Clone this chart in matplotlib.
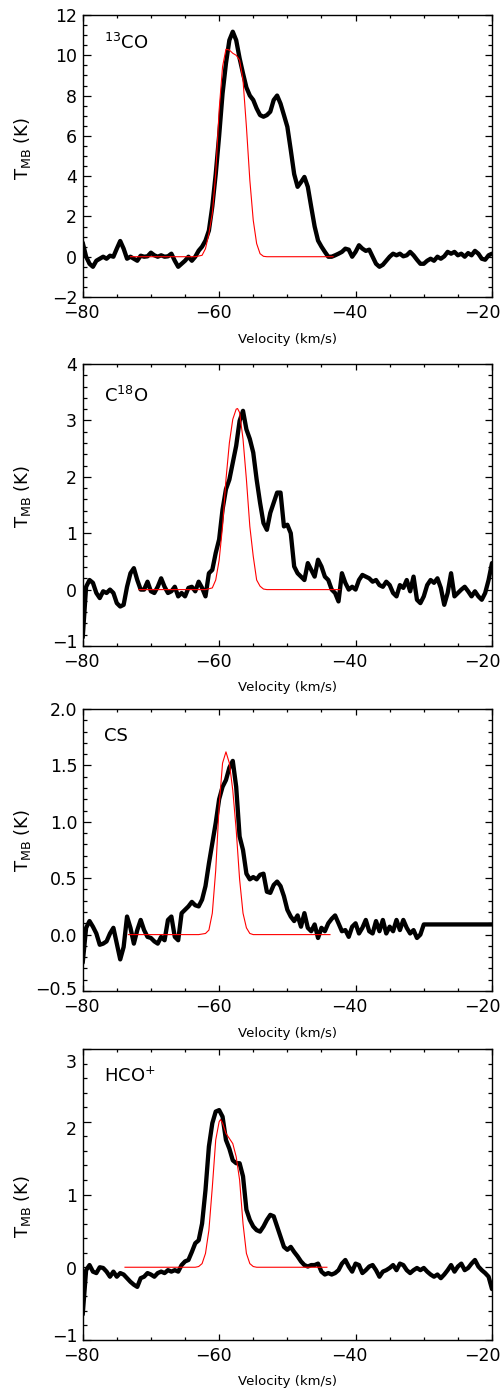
import numpy as np
import matplotlib
matplotlib.use("Agg")
import matplotlib.pyplot as plt
from matplotlib.ticker import MultipleLocator, FixedLocator
from matplotlib.transforms import ScaledTranslation

plt.rcParams['font.family'] = ['DejaVu Sans']
plt.rcParams['mathtext.default'] = 'regular'

# Channel velocities (km/s), 0.5 km/s spacing
velocity = np.linspace(-80, -20, 121)

# 13CO brightness temperature (K)
t_13co = [
    0.7, 0.0, -0.35, -0.5, -0.2, -0.1, 0.0, -0.1, 0.05, 0.0,
    0.4, 0.78, 0.4, -0.1, 0.0, -0.1, -0.2, 0.05, 0.0, 0.02,
    0.2, 0.07, 0.0, 0.07, 0.0, 0.02, 0.15, -0.2, -0.5, -0.35,
    -0.2, 0.0, -0.2, 0.0, 0.3, 0.5, 0.8, 1.3, 2.5, 4.1,
    6.0, 8.1, 9.6, 10.75, 11.17, 10.75, 9.85, 9.1, 8.4, 8.0,
    7.78, 7.36, 7.03, 6.95, 7.03, 7.2, 7.78, 8.0, 7.6, 7.03,
    6.45, 5.3, 4.1, 3.47, 3.7, 3.96, 3.47, 2.47, 1.5, 0.8,
    0.5, 0.24, 0.0, 0.0, 0.07, 0.15, 0.24, 0.4, 0.35, 0.0,
    0.24, 0.57, 0.4, 0.29, 0.35, 0.0, -0.35, -0.5, -0.4, -0.2,
    0.0, 0.15, 0.07, 0.15, 0.02, 0.07, 0.24, 0.07, -0.15, -0.35,
    -0.35, -0.2, -0.1, -0.2, 0.0, -0.1, 0.02, 0.24, 0.15, 0.24,
    0.07, 0.15, 0.0, 0.18, 0.07, 0.29, 0.15, -0.1, -0.15, 0.07,
    0.15,
]

# C18O brightness temperature (K)
t_c18o = [
    -0.85, 0.05, 0.17, 0.12, -0.06, -0.15, -0.03, -0.06, 0.0, -0.06,
    -0.24, -0.3, -0.27, 0.05, 0.29, 0.38, 0.17, 0.0, 0.0, 0.14,
    -0.03, -0.06, 0.05, 0.2, 0.05, -0.06, -0.03, 0.05, -0.12, -0.06,
    -0.12, 0.03, 0.05, -0.03, 0.14, 0.03, -0.12, 0.29, 0.35, 0.65,
    0.89, 1.42, 1.78, 1.95, 2.25, 2.55, 2.99, 3.17, 2.84, 2.67,
    2.43, 1.95, 1.54, 1.18, 1.06, 1.36, 1.54, 1.72, 1.72, 1.12,
    1.15, 1.0, 0.41, 0.29, 0.23, 0.17, 0.47, 0.35, 0.23, 0.53,
    0.41, 0.23, 0.17, 0.0, -0.06, -0.21, 0.29, 0.12, 0.0, 0.05,
    0.0, 0.17, 0.26, 0.23, 0.2, 0.14, 0.17, 0.08, 0.05, 0.14,
    0.08, -0.06, -0.12, 0.08, 0.03, 0.17, -0.03, 0.23, -0.18, -0.24,
    -0.12, 0.08, 0.17, 0.12, 0.2, 0.03, -0.27, -0.06, 0.29, -0.12,
    -0.06, 0.0, 0.05, -0.03, -0.12, -0.03, -0.12, -0.18, -0.06, 0.17,
    0.47,
]

# CS brightness temperature (K)
t_cs = [
    -0.25, 0.06, 0.12, 0.07, 0.01, -0.09, -0.08, -0.06, 0.01, 0.06,
    -0.08, -0.22, -0.11, 0.16, 0.06, -0.08, 0.04, 0.13, 0.04, -0.02,
    -0.03, -0.06, -0.08, -0.02, -0.05, 0.13, 0.16, -0.02, -0.05, 0.19,
    0.22, 0.25, 0.29, 0.26, 0.25, 0.31, 0.43, 0.63, 0.81, 0.99,
    1.2, 1.31, 1.37, 1.48, 1.54, 1.31, 0.87, 0.75, 0.54, 0.49,
    0.51, 0.49, 0.53, 0.54, 0.38, 0.37, 0.44, 0.47, 0.43, 0.34,
    0.22, 0.16, 0.12, 0.17, 0.07, 0.19, 0.06, 0.03, 0.09, -0.03,
    0.06, 0.03, 0.1, 0.14, 0.17, 0.1, 0.03, 0.04, -0.02, 0.07,
    0.1, 0.01, 0.06, 0.13, 0.03, 0.01, 0.12, 0.03, 0.13, 0.01,
    0.07, 0.03, 0.13, 0.04, 0.13, 0.06, 0.01, 0.04, -0.03, 0.0,
    0.09, 0.09, 0.09, 0.09, 0.09, 0.09, 0.09, 0.09, 0.09, 0.09,
    0.09, 0.09, 0.09, 0.09, 0.09, 0.09, 0.09, 0.09, 0.09, 0.09,
    0.09,
]

# HCO+ brightness temperature (K)
t_hcop = [
    -0.65, -0.04, 0.03, -0.06, -0.08, 0.0, -0.01, -0.06, -0.13, -0.06,
    -0.13, -0.08, -0.1, -0.15, -0.2, -0.24, -0.27, -0.15, -0.13, -0.08,
    -0.1, -0.13, -0.08, -0.06, -0.08, -0.04, -0.06, -0.04, -0.06, 0.03,
    0.08, 0.1, 0.21, 0.33, 0.37, 0.6, 1.06, 1.66, 1.98, 2.14,
    2.16, 2.07, 1.75, 1.63, 1.47, 1.43, 1.43, 1.25, 0.79, 0.65,
    0.56, 0.51, 0.49, 0.56, 0.65, 0.72, 0.7, 0.56, 0.42, 0.28,
    0.24, 0.28, 0.21, 0.15, 0.08, 0.03, 0.01, 0.03, 0.03, 0.05,
    -0.06, -0.1, -0.08, -0.1, -0.08, -0.04, 0.05, 0.1, 0.01, -0.06,
    0.05, 0.03, -0.08, -0.04, 0.01, 0.03, -0.04, -0.13, -0.06, -0.04,
    -0.01, 0.03, -0.04, 0.05, 0.03, -0.04, -0.08, -0.04, -0.01, -0.04,
    -0.01, -0.06, -0.1, -0.13, -0.1, -0.15, -0.1, -0.04, 0.03, -0.06,
    0.01, 0.05, -0.04, -0.01, 0.05, 0.1, 0.01, -0.04, -0.08, -0.13,
    -0.3,
]

# Fitted line profiles (red)
fit_v_13co = [-73.0, -63.5, -62.5, -62.0, -61.5, -61.0, -60.5, -60.0, -59.5, -59.0,
              -58.5, -58.0, -57.5, -57.0, -56.5, -56.0, -55.5, -55.0, -54.5, -54.0,
              -53.5, -53.0, -43.3]
fit_t_13co = [0.0, 0.0, 0.07, 0.4, 1.15, 2.14, 4.13, 7.28, 9.43, 10.3,
              10.26, 10.1, 10.0, 9.76, 8.77, 6.45, 3.8, 1.81, 0.65, 0.15,
              0.02, 0.0, 0.0]

fit_v_c18o = [-71.8, -62.0, -61.0, -60.5, -60.0, -59.5, -59.0, -58.5, -58.0, -57.5,
              -57.3, -57.0, -56.5, -56.0, -55.5, -55.0, -54.5, -54.0, -53.5, -53.0,
              -42.3]
fit_t_c18o = [0.0, 0.0, 0.03, 0.17, 0.52, 1.12, 1.95, 2.6, 3.02, 3.2,
              3.21, 3.14, 2.67, 1.95, 1.12, 0.59, 0.17, 0.06, 0.01, 0.0,
              0.0]

fit_v_cs = [-73.3, -63.0, -62.0, -61.5, -61.0, -60.5, -60.0, -59.5, -59.0, -58.5,
            -58.0, -57.5, -57.0, -56.5, -56.0, -55.5, -55.0, -43.75]
fit_t_cs = [0.0, 0.0, 0.01, 0.04, 0.19, 0.57, 1.14, 1.52, 1.62, 1.52,
            1.28, 0.93, 0.49, 0.19, 0.06, 0.01, 0.0, 0.0]

fit_v_hcop = [-73.8, -63.5, -63.0, -62.5, -62.0, -61.5, -61.0, -60.5, -60.0, -59.8,
              -59.5, -59.0, -58.5, -58.0, -57.5, -57.0, -56.5, -56.0, -55.5, -55.0,
              -54.5, -44.2]
fit_t_hcop = [0.0, 0.0, 0.01, 0.05, 0.19, 0.51, 1.1, 1.75, 2.0, 2.03,
              1.98, 1.84, 1.77, 1.7, 1.52, 1.2, 0.6, 0.19, 0.05, 0.01,
              0.0, 0.0]

species = [r'$^{13}$CO', r'C$^{18}$O', 'CS', r'HCO$^{+}$']
spectra = [t_13co, t_c18o, t_cs, t_hcop]
fits = [(fit_v_13co, fit_t_13co), (fit_v_c18o, fit_t_c18o),
        (fit_v_cs, fit_t_cs), (fit_v_hcop, fit_t_hcop)]
ylims = [(-2, 12), (-1, 4), (-0.5, 2.0), (-1, 3)]
yticks = [[-2, 0, 2, 4, 6, 8, 10, 12],
          [-1, 0, 1, 2, 3, 4],
          [-0.5, 0.0, 0.5, 1.0, 1.5, 2.0],
          [-1, 0, 1, 2, 3]]
yminor = [0.5, 0.2, 0.1, 0.2]
xticks = [-80, -60, -40, -20]

W, H = 504, 1389
fig = plt.figure(figsize=(W / 100, H / 100), dpi=100)

# panel frames in pixels: (top, bottom)
frames = [(15, 297), (364, 646), (709, 991), (1049, 1340)]
left_px, right_px = 82.7, 492.0
label_x_px = 104
label_base_px = [49.3, 401.7, 740.7, 1082]
ylabel_center_px = [148.5, 496.7, 840.5, 1206]
# nudges of the tick labels (pixels; x rightward, y downward)
xlabel_shift_px = [-1.0, -5.5, -6.0, -9.5]
ylabel_shift_px = [[0, 0, 0, 0, 0, 0, 0, 0],
                   [-5, 0, 0, 0, 0, 0],
                   [-3, 0, 0, 0, 0, 0],
                   [-5, 1, 1, 6.5, 11.5]]

for i in range(4):
    top, bot = frames[i]
    ax = fig.add_axes([left_px / W, 1 - bot / H,
                       (right_px - left_px) / W, (bot - top) / H])
    hpx = bot - top
    ax.plot(velocity, spectra[i], color='black', lw=3.1,
            solid_joinstyle='round', solid_capstyle='round', zorder=3)
    ax.plot(fits[i][0], fits[i][1], color='red', lw=0.8, zorder=4)
    ax.set_xlim(-80, -20)
    ax.set_ylim(*ylims[i])
    ax.xaxis.set_major_locator(FixedLocator(xticks))
    ax.xaxis.set_minor_locator(MultipleLocator(5))
    ax.yaxis.set_major_locator(FixedLocator(yticks[i]))
    ax.yaxis.set_minor_locator(MultipleLocator(yminor[i]))
    ax.tick_params(axis='both', which='both', direction='in',
                   top=True, right=True, width=0.9, labelsize=12.5)
    ax.tick_params(axis='x', which='major', length=4.3, pad=4.8)
    ax.tick_params(axis='x', which='minor', length=2.2)
    ax.tick_params(axis='y', which='major', length=5.4, pad=4)
    ax.tick_params(axis='y', which='minor', length=2.9)
    for sp in ax.spines.values():
        sp.set_linewidth(1.0)
    if i == 2:
        ax.yaxis.set_major_formatter(plt.FuncFormatter(
            lambda v, p: f'{v:.1f}'.replace('-', '\u2212')))

    for tick, dx in zip(ax.xaxis.get_major_ticks(len(xticks)), xlabel_shift_px):
        lab = tick.label1
        lab.set_transform(lab.get_transform() +
                          ScaledTranslation(dx / 100, 0, fig.dpi_scale_trans))
    for tick, dy in zip(ax.yaxis.get_major_ticks(len(yticks[i])), ylabel_shift_px[i]):
        lab = tick.label1
        lab.set_transform(lab.get_transform() +
                          ScaledTranslation(0, -dy / 100, fig.dpi_scale_trans))

    ax.set_xlabel('Velocity (km/s)', fontsize=9.5)
    ax.xaxis.label.set_va('center')
    ax.xaxis.set_label_coords(0.5, -42.0 / hpx)

    ax.set_ylabel(r'T$_{MB}$ (K)', fontsize=13)
    ax.yaxis.set_label_coords((33 - left_px) / (right_px - left_px),
                              1 - (ylabel_center_px[i] - top) / hpx)

    ax.text((label_x_px - left_px) / (right_px - left_px),
            1 - (label_base_px[i] - top) / hpx,
            species[i], transform=ax.transAxes, fontsize=13,
            ha='left', va='baseline')

fig.savefig('out.png', dpi=100)
